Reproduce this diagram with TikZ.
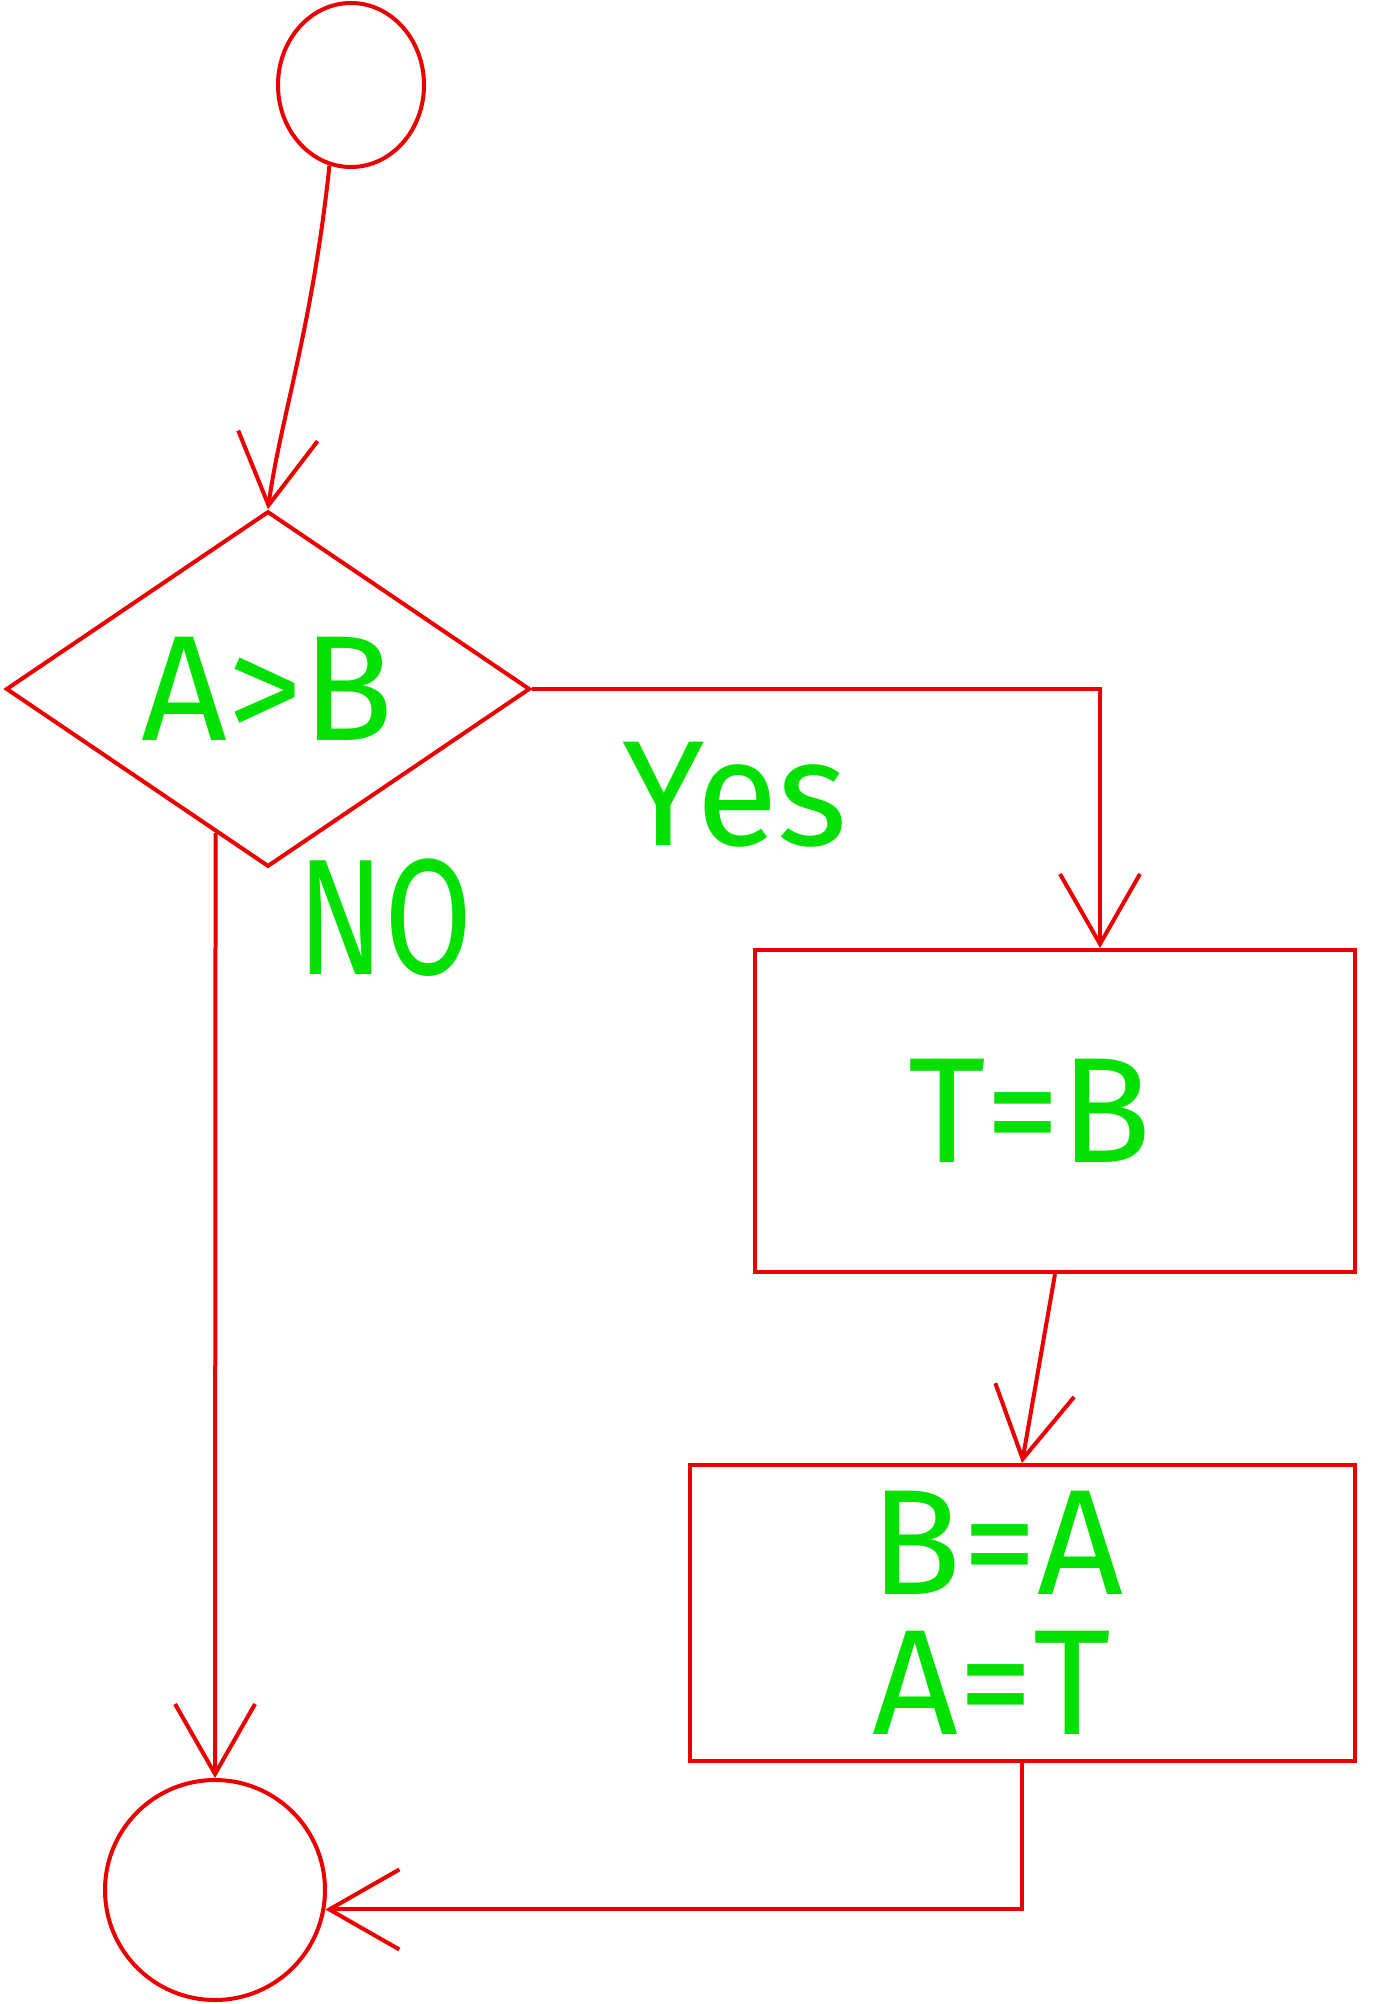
\documentclass[tikz,border=0pt]{standalone}
\usepackage{fontspec}
\newfontfamily\handfont{Fira Sans}
\definecolor{penred}{RGB}{235,0,0}
\definecolor{pengreen}{RGB}{0,225,0}
\usetikzlibrary{positioning,shapes.geometric,arrows.meta}
\tikzset{>={Straight Barb[length=70pt,width=80pt]}}
\tikzset{
  pen/.style={draw=penred, line width=4pt},
  hand/.style={text=pengreen, inner sep=0pt, font=\handfont\fontsize{150}{150}\selectfont},
  box/.style={pen, rectangle, hand, align=center},
}

\begin{document}
\begin{tikzpicture}[x=1pt, y=-1pt, line width=4pt, color=penred]
      \useasboundingbox (0,0) rectangle (1374,2004);
      \node[pen, ellipse, minimum width=146pt, minimum height=164pt] (n0) at (351,85) {};
      \node[pen, diamond, hand, minimum width=524pt, minimum height=341pt] (n1) at (268,689) {A>B};
      \node[box, minimum width=600pt, minimum height=322pt] (n2) at (1055,1111) {\hspace*{-50pt}T=B};
      \node[box, minimum width=665pt, minimum height=296pt] (n3) at (1022,1613) {\hspace*{-50pt}B=A\\[-10pt]\hspace*{-60pt}A=T};
      \node[pen, circle, minimum size=220pt] (n4) at (215,1890) {};
      \coordinate (aux1) at (1100,689);
      \node[hand] (yes) at (735,795) {Yes};
      \node[hand] (no) at (385,918) {\scalebox{0.85}[1.1]{NO}};
      \draw[->] (n0.255) .. controls (312,330) and (280,420) .. (n1.north);
      \draw[->] (n1.east) -- (aux1) -- (aux1 |- n2.north);
      \draw[->] (n2.south) -- (n3.north);
      \draw[->] (n1.250) -- (n4.north);
      \draw[->] (n3.south) |- (n4.-10);
    \end{tikzpicture}
\end{document}
